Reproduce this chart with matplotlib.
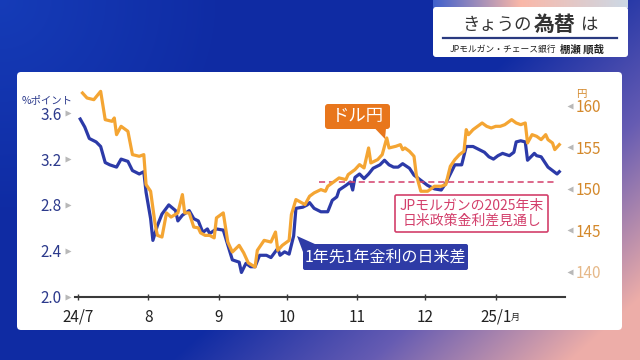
import numpy as np
import pandas as pd
import matplotlib
matplotlib.use('Agg')
import matplotlib.pyplot as plt
import matplotlib.dates as mdates
from matplotlib.patches import FancyBboxPatch, Polygon
from matplotlib.transforms import blended_transform_factory

plt.rcParams['font.family'] = ['Noto Sans CJK JP', 'DejaVu Sans']

# 1年先1年金利の日米差 (%ポイント, 左軸)
spread_dates = ['2024-07-02', '2024-07-04', '2024-07-06', '2024-07-09', '2024-07-11', '2024-07-13',
                '2024-07-15', '2024-07-18', '2024-07-20', '2024-07-23', '2024-07-25', '2024-07-28',
                '2024-07-30', '2024-07-31', '2024-08-02', '2024-08-03', '2024-08-05', '2024-08-07',
                '2024-08-10', '2024-08-13', '2024-08-14', '2024-08-16', '2024-08-19', '2024-08-21',
                '2024-08-23', '2024-08-25', '2024-08-27', '2024-08-28', '2024-08-31', '2024-09-03',
                '2024-09-05', '2024-09-07', '2024-09-10', '2024-09-11', '2024-09-13', '2024-09-15',
                '2024-09-17', '2024-09-19', '2024-09-22', '2024-09-24', '2024-09-27', '2024-09-28',
                '2024-09-30', '2024-10-02', '2024-10-04', '2024-10-05', '2024-10-08', '2024-10-10',
                '2024-10-11', '2024-10-13', '2024-10-16', '2024-10-19', '2024-10-21', '2024-10-23',
                '2024-10-24', '2024-10-27', '2024-10-29', '2024-10-30', '2024-10-31', '2024-11-02',
                '2024-11-04', '2024-11-06', '2024-11-08', '2024-11-11', '2024-11-13', '2024-11-15',
                '2024-11-17', '2024-11-19', '2024-11-21', '2024-11-24', '2024-11-26', '2024-11-28',
                '2024-11-30', '2024-12-02', '2024-12-05', '2024-12-08', '2024-12-10', '2024-12-12',
                '2024-12-14', '2024-12-17', '2024-12-19', '2024-12-22', '2024-12-24', '2024-12-27',
                '2024-12-29', '2024-12-31', '2025-01-02', '2025-01-04', '2025-01-07', '2025-01-09',
                '2025-01-10', '2025-01-12', '2025-01-14', '2025-01-15', '2025-01-18', '2025-01-19',
                '2025-01-21', '2025-01-24', '2025-01-26', '2025-01-28', '2025-01-29']
spread = [3.55, 3.48, 3.38, 3.35, 3.31, 3.17, 3.15, 3.13, 3.20, 3.18, 3.10, 3.07,
          3.09, 2.91, 2.68, 2.49, 2.62, 2.72, 2.80, 2.75, 2.66, 2.71, 2.75, 2.68,
          2.66, 2.56, 2.59, 2.55, 2.59, 2.58, 2.45, 2.32, 2.30, 2.21, 2.29, 2.26,
          2.26, 2.36, 2.36, 2.34, 2.42, 2.36, 2.39, 2.37, 2.53, 2.77, 2.78, 2.80,
          2.82, 2.77, 2.74, 2.74, 2.84, 2.87, 2.93, 2.97, 3.00, 2.93, 3.04, 3.07,
          3.03, 3.07, 3.12, 3.15, 3.19, 3.15, 3.13, 3.13, 3.16, 3.12, 3.06, 3.03,
          3.00, 2.97, 2.94, 2.93, 2.99, 3.07, 3.15, 3.15, 3.31, 3.31, 3.29, 3.26,
          3.22, 3.20, 3.23, 3.25, 3.23, 3.26, 3.35, 3.36, 3.35, 3.19, 3.25, 3.23,
          3.22, 3.13, 3.10, 3.07, 3.09]

# ドル円 (円, 右軸)
usdjpy_dates = ['2024-07-03', '2024-07-05', '2024-07-08', '2024-07-11', '2024-07-13', '2024-07-16',
                '2024-07-17', '2024-07-18', '2024-07-20', '2024-07-23', '2024-07-25', '2024-07-28',
                '2024-07-30', '2024-07-31', '2024-08-02', '2024-08-04', '2024-08-05', '2024-08-07',
                '2024-08-09', '2024-08-11', '2024-08-14', '2024-08-16', '2024-08-17', '2024-08-19',
                '2024-08-21', '2024-08-23', '2024-08-24', '2024-08-26', '2024-08-28', '2024-08-30',
                '2024-08-31', '2024-09-03', '2024-09-05', '2024-09-07', '2024-09-10', '2024-09-12',
                '2024-09-14', '2024-09-17', '2024-09-18', '2024-09-21', '2024-09-24', '2024-09-26',
                '2024-09-27', '2024-09-29', '2024-10-02', '2024-10-03', '2024-10-05', '2024-10-07',
                '2024-10-09', '2024-10-11', '2024-10-13', '2024-10-16', '2024-10-18', '2024-10-19',
                '2024-10-22', '2024-10-24', '2024-10-27', '2024-10-28', '2024-10-31', '2024-11-02',
                '2024-11-04', '2024-11-06', '2024-11-07', '2024-11-10', '2024-11-12', '2024-11-14',
                '2024-11-15', '2024-11-18', '2024-11-20', '2024-11-21', '2024-11-22', '2024-11-24',
                '2024-11-26', '2024-11-27', '2024-11-29', '2024-12-02', '2024-12-05', '2024-12-08',
                '2024-12-10', '2024-12-12', '2024-12-14', '2024-12-16', '2024-12-18', '2024-12-19',
                '2024-12-20', '2024-12-22', '2024-12-24', '2024-12-26', '2024-12-28', '2024-12-30',
                '2025-01-01', '2025-01-03', '2025-01-05', '2025-01-08', '2025-01-10', '2025-01-12',
                '2025-01-14', '2025-01-15', '2025-01-17', '2025-01-19', '2025-01-21', '2025-01-23',
                '2025-01-24', '2025-01-26', '2025-01-27', '2025-01-29']
usdjpy = [161.5, 160.9, 160.7, 161.7, 158.3, 158.1, 158.5, 156.5, 157.5, 156.9, 154.1, 153.9,
          154.1, 150.5, 149.7, 145.7, 144.4, 144.2, 147.1, 146.6, 147.1, 149.3, 147.1, 147.1,
          145.4, 145.3, 144.7, 144.4, 144.4, 144.1, 146.5, 147.1, 143.6, 142.4, 143.2, 142.3,
          141.1, 140.6, 142.6, 143.8, 143.6, 144.8, 142.6, 143.2, 143.8, 146.9, 148.7, 148.4,
          148.1, 149.1, 149.5, 149.9, 149.7, 150.3, 150.9, 151.3, 151.1, 151.7, 152.3, 152.9,
          152.5, 154.9, 153.1, 153.5, 154.1, 156.1, 154.9, 155.1, 155.3, 154.7, 154.9, 154.5,
          153.9, 151.7, 149.7, 149.7, 150.3, 150.3, 150.5, 152.7, 153.5, 154.1, 154.5, 157.1,
          156.5, 157.1, 157.5, 157.9, 157.5, 157.3, 157.5, 157.5, 157.7, 158.3, 157.9, 157.7,
          157.9, 155.5, 156.5, 156.3, 155.9, 156.5, 155.9, 155.5, 154.7, 155.3]

# JPモルガンの2025年末 日米政策金利差見通し
forecast_level = 3.0
forecast_span = ['2024-10-15', '2025-01-28']

month_ticks = ['2024-07-01', '2024-08-01', '2024-09-01', '2024-10-01',
               '2024-11-01', '2024-12-01', '2025-01-01']
month_labels = ['24/7', '8', '9', '10', '11', '12', '25/1']
left_ticks = [2.0, 2.4, 2.8, 3.2, 3.6]
right_ticks = [140, 145, 150, 155, 160]

BLUE = '#2c3aa8'
ORANGE = '#f4a533'
NAVY = '#2c3a8c'
ORANGE_TXT = '#d4892c'
CRIMSON = '#d33f6b'

fig = plt.figure(figsize=(6.4, 3.6), dpi=100)

# 背景グラデーション
bg = fig.add_axes([0, 0, 1, 1], zorder=0)
W, H = 640, 360
xx, yy = np.meshgrid(np.linspace(0, 1, W), np.linspace(0, 1, H))
w = np.clip((xx - 0.55) * 1.6 + (yy - 0.55) * 1.0, 0, 1)[..., None]
c_blue = np.array([0.06, 0.17, 0.64])
c_purple = np.array([0.40, 0.36, 0.70])
c_pink = np.array([0.93, 0.68, 0.66])
img = np.where(w < 0.5, c_blue + (c_purple - c_blue) * (w / 0.5),
               c_purple + (c_pink - c_purple) * ((w - 0.5) / 0.5))
# 左上を少し明るく
glow = np.clip(1 - np.hypot(xx / 0.35, yy / 0.6), 0, 1)[..., None] * 0.08
img = np.clip(img + glow * np.array([0.3, 0.8, 1.0]), 0, 1)
bg.imshow(img, extent=(0, W, H, 0), aspect='auto')
bg.set_xlim(0, W)
bg.set_ylim(H, 0)
bg.axis('off')

# 白パネル
bg.add_patch(FancyBboxPatch((17, 72), 605, 258, boxstyle='round,pad=0,rounding_size=4',
                            fc='white', ec='none'))
# タイトルボックス
strip = np.linspace(0, 1, 200)
strip_cols = np.array([np.interp(strip, [0, 0.45, 1], [0.25, 0.98, 0.80]),
                       np.interp(strip, [0, 0.45, 1], [0.38, 0.72, 0.85]),
                       np.interp(strip, [0, 0.45, 1], [0.80, 0.66, 0.90])]).T[None, :, :]
bg.imshow(strip_cols, extent=(433, 628, 8, 0), aspect='auto')
bg.add_patch(FancyBboxPatch((433, 7), 195, 50, boxstyle='round,pad=0,rounding_size=3',
                            fc='white', ec='none'))
bg.plot([443, 617], [38, 38], color='#2a3a80', lw=1.6)
bg.text(462, 25, 'きょうの', fontsize=12.5, color='#333333', va='center', ha='left')
bg.text(534, 24, '為替', fontsize=15, fontweight='bold', color='#333333', va='center', ha='left')
bg.text(581, 25, 'は', fontsize=12.5, color='#333333', va='center', ha='left')
bg.text(556, 49, 'JPモルガン・チェース銀行', fontsize=6.3, color='#222222', va='center', ha='right')
bg.text(560, 49, '棚瀬 順哉', fontsize=7.5, fontweight='bold', color='#222222', va='center', ha='left')

# チャート本体
ax = fig.add_axes([75 / 640, 63.5 / 360, 490 / 640, 216.5 / 360], zorder=1)
ax2 = ax.twinx()
ax2.set_zorder(2)
ax.patch.set_visible(False)
ax2.patch.set_visible(False)

sd = pd.to_datetime(spread_dates)
ud = pd.to_datetime(usdjpy_dates)
ax.plot(sd, spread, color=BLUE, lw=2.3, solid_joinstyle='round')
ax2.plot(ud, usdjpy, color=ORANGE, lw=2.3, solid_joinstyle='round')
fs = pd.to_datetime(forecast_span)
ax.plot(fs, [forecast_level, forecast_level], color=CRIMSON, lw=1.1, ls=(0, (4, 2.5)))

x0 = mdates.date2num(pd.Timestamp('2024-07-01')) - 1.3
x1 = mdates.date2num(pd.Timestamp('2025-01-31')) + 0.5
ax.set_xlim(x0, x1)
ax.set_ylim(2.0, 2.0 + 216.5 / 114.5)
ax2.set_ylim(140 - 24.5 / 8.325, 140 - 24.5 / 8.325 + 216.5 / 8.325)

for s in ['top', 'left', 'right']:
    ax.spines[s].set_visible(False)
for s in ax2.spines.values():
    s.set_visible(False)
ax.spines['bottom'].set_color('#3a3a3a')
ax.spines['bottom'].set_linewidth(1.5)

ax.set_xticks(pd.to_datetime(month_ticks))
ax.set_xticklabels(month_labels)
ax.tick_params(axis='x', direction='inout', length=5, width=1, color='#3a3a3a',
               labelsize=11, labelcolor='#222222', pad=6.5)

ax.set_yticks(left_ticks)
ax.set_yticklabels([f'{v:.1f}' for v in left_ticks])
ax.tick_params(axis='y', length=0, labelsize=11, labelcolor=NAVY, pad=9.5)
ax2.set_yticks(right_ticks)
ax2.set_yticklabels([str(v) for v in right_ticks])
ax2.tick_params(axis='y', length=0, labelsize=11, labelcolor=ORANGE_TXT, pad=8)
ax2.get_yticklabels()[0].set_color('#e6b98a')

tl = blended_transform_factory(ax.transAxes, ax.transData)
ax.plot([-0.0135] * len(left_ticks), left_ticks, transform=tl, ls='none', marker='>',
        ms=4.5, color='#b8b8b8', mec='none', clip_on=False)
tr = blended_transform_factory(ax2.transAxes, ax2.transData)
ax2.plot([1.0105] * len(right_ticks), right_ticks, transform=tr, ls='none', marker='<',
         ms=4.5, color='#b8b8b8', mec='none', clip_on=False)

# 注釈・単位
ov = fig.add_axes([0, 0, 1, 1], zorder=3)
ov.set_xlim(0, W)
ov.set_ylim(H, 0)
ov.axis('off')
ov.patch.set_visible(False)

ov.text(47, 100, '%ポイント', fontsize=7.5, color=NAVY, ha='center', va='center')
ov.text(581, 94, '円', fontsize=7.5, color=ORANGE_TXT, ha='center', va='center')
ov.text(511, 317, '月', fontsize=6.5, color='#222222', ha='left', va='center')

ov.add_patch(FancyBboxPatch((325, 104), 65, 25, boxstyle='round,pad=0,rounding_size=3',
                            fc='#e8761c', ec='none'))
ov.add_patch(Polygon([(375, 128.5), (386, 128.5), (385, 139)], closed=True, fc='#e8761c', ec='none'))
ov.text(357.5, 116.5, 'ドル円', fontsize=12.5, color='white', ha='center', va='center')

ov.add_patch(FancyBboxPatch((303, 244), 165, 26, boxstyle='round,pad=0,rounding_size=2',
                            fc='#2e3ba6', ec='none'))
ov.add_patch(Polygon([(297, 236), (316, 244.5), (303, 252)], closed=True, fc='#2e3ba6', ec='none'))
ov.text(385.5, 257, '1年先1年金利の日米差', fontsize=11.5, color='white', ha='center', va='center')

ov.add_patch(FancyBboxPatch((395, 195), 153, 37, boxstyle='round,pad=0,rounding_size=1.5',
                            fc='white', ec=CRIMSON, lw=1.2))
ov.text(471.5, 213.5, 'JPモルガンの2025年末\n日米政策金利差見通し', fontsize=10, color=CRIMSON,
        ha='center', va='center', linespacing=1.1)

fig.savefig('out.png', dpi=100)
